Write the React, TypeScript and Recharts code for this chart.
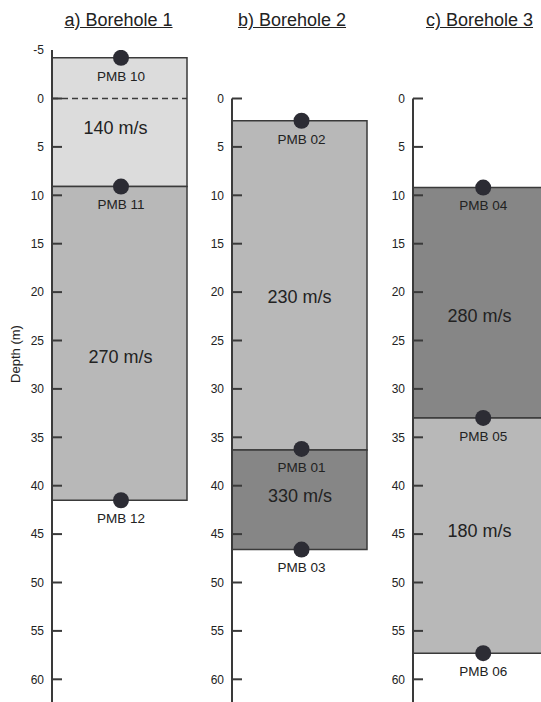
import { ComposedChart, XAxis, YAxis, Scatter, ReferenceArea, ReferenceLine } from 'recharts';

const titles = ['a) Borehole 1', 'b) Borehole 2', 'c) Borehole 3'];
const ticksA = [-5, 0, 5, 10, 15, 20, 25, 30, 35, 40, 45, 50, 55, 60];
const ticksBC = [0, 5, 10, 15, 20, 25, 30, 35, 40, 45, 50, 55, 60];

// borehole 1
const bh1Top = [-4.2, 9.1];
const bh1Base = [9.1, 41.5];
const bh1Vel = [140, 270];
const bh1VelDepth = [3.0, 26.7];
const bh1VelPos = [0.47, 0.507];
const bh1Sensors = ['PMB 10', 'PMB 11', 'PMB 12'];
const bh1SensorDepth = [-4.2, 9.1, 41.5];

// borehole 2
const bh2Top = [2.3, 36.3];
const bh2Base = [36.3, 46.6];
const bh2Vel = [230, 330];
const bh2VelDepth = [20.5, 41.0];
const bh2VelPos = [0.5, 0.503];
const bh2Sensors = ['PMB 02', 'PMB 01', 'PMB 03'];
const bh2SensorDepth = [2.3, 36.2, 46.6];

// borehole 3
const bh3Top = [9.2, 33.0];
const bh3Base = [33.0, 57.3];
const bh3Vel = [280, 180];
const bh3VelDepth = [22.4, 44.6];
const bh3VelPos = [0.493, 0.493];
const bh3Sensors = ['PMB 04', 'PMB 05', 'PMB 06'];
const bh3SensorDepth = [9.2, 33.0, 57.3];

const FONT = '"Liberation Sans", Arial, Helvetica, sans-serif';
const INK = '#3a3a3a';

const velFill = (v: number) => (v < 150 ? '#dcdcdc' : v < 275 ? '#b8b8b8' : '#868686');

function makeTick(skip: number[]) {
  return (props: any) => {
    const { x, y, payload } = props;
    const ax = x + 8;
    return (
      <g>
        {!skip.includes(payload.value) && <line x1={ax} x2={ax + 10} y1={y} y2={y} stroke={INK} strokeWidth={2} />}
        <text x={x} y={y} dy="0.36em" textAnchor="end" fontSize={12} fill="#222" fontFamily={FONT}>
          {payload.value}
        </text>
      </g>
    );
  };
}

const SensorDot = (props: any) => {
  const { cx, cy, payload } = props;
  return (
    <g>
      <circle cx={cx} cy={cy} r={8} fill="#2c2c34" />
      <text x={cx} y={cy + 18} dy="0.36em" textAnchor="middle" fontSize={13.5} fill="#222" fontFamily={FONT}>
        {payload.name}
      </text>
    </g>
  );
};

const VelText = (props: any) => {
  const { cx, cy, payload } = props;
  return (
    <text x={cx} y={cy} dy="0.36em" textAnchor="middle" fontSize={18} fill="#222" fontFamily={FONT}>
      {payload.label}
    </text>
  );
};

function Borehole(props: {
  left: number; min: number; ticks: number[]; skip: number[]; dashed: boolean;
  top: number[]; base: number[]; vel: number[]; velDepth: number[]; velPos: number[];
  sensors: string[]; sensorDepth: number[]; sensorPos: number;
}) {
  const { left, min, ticks, skip, dashed, top, base, vel, velDepth, velPos, sensors, sensorDepth, sensorPos } = props;
  const pxPerM = 9.68;
  const marginTop = 98.5 + min * pxPerM;
  const velData = vel.map((v, i) => ({ x: velPos[i], depth: velDepth[i], label: `${v} m/s` }));
  const sensorData = sensors.map((s, i) => ({ x: sensorPos, depth: sensorDepth[i], name: s }));
  return (
    <div style={{ position: 'absolute', left, top: 0 }}>
      <ComposedChart width={200} height={720} margin={{ top: marginTop, right: 13, bottom: 16.5, left: 0 }}>
        <XAxis type="number" dataKey="x" domain={[0, 1]} hide />
        <YAxis
          yAxisId="d"
          type="number"
          dataKey="depth"
          domain={[min, 62.5]}
          reversed
          allowDataOverflow
          ticks={ticks}
          interval={0}
          width={52}
          axisLine={{ stroke: INK, strokeWidth: 2 }}
          tickLine={false}
          tick={makeTick(skip)}
        />
        <YAxis
          yAxisId="r"
          orientation="right"
          type="number"
          domain={[min, 62.5]}
          reversed
          width={0}
          tick={false}
          tickLine={false}
          axisLine={{ stroke: INK, strokeWidth: 2 }}
        />
        {top.map((t, i) => (
          <ReferenceArea
            key={i}
            yAxisId="d"
            y1={t}
            y2={base[i]}
            fill={velFill(vel[i])}
            fillOpacity={1}
            stroke={INK}
            strokeWidth={1.5}
            ifOverflow="visible"
          />
        ))}
        {dashed && <ReferenceLine yAxisId="d" y={0} stroke={INK} strokeWidth={1.5} strokeDasharray="6 4" />}
        <Scatter yAxisId="d" data={velData} shape={VelText} isAnimationActive={false} />
        <Scatter yAxisId="d" data={sensorData} shape={SensorDot} isAnimationActive={false} />
      </ComposedChart>
    </div>
  );
}

const titleX = [118.5, 292, 479.5];

export default function App() {
  return (
    <div
      style={{
        position: 'fixed', left: 0, top: 0, width: 541, height: 702, overflow: 'hidden',
        background: '#fff', fontFamily: FONT, color: '#222',
      }}
    >
      {titles.map((t, i) => (
        <div
          key={t}
          style={{
            position: 'absolute', left: titleX[i], top: 10, transform: 'translateX(-50%)',
            fontSize: 18, lineHeight: '20px', textDecoration: 'underline', whiteSpace: 'nowrap',
          }}
        >
          {t}
        </div>
      ))}
      <Borehole left={0} min={-5} ticks={ticksA} skip={[-5]} dashed
        top={bh1Top} base={bh1Base} vel={bh1Vel} velDepth={bh1VelDepth} velPos={bh1VelPos}
        sensors={bh1Sensors} sensorDepth={bh1SensorDepth} sensorPos={0.511} />
      <Borehole left={180} min={0} ticks={ticksBC} skip={[]} dashed={false}
        top={bh2Top} base={bh2Base} vel={bh2Vel} velDepth={bh2VelDepth} velPos={bh2VelPos}
        sensors={bh2Sensors} sensorDepth={bh2SensorDepth} sensorPos={0.515} />
      <Borehole left={361} min={0} ticks={ticksBC} skip={[]} dashed={false}
        top={bh3Top} base={bh3Base} vel={bh3Vel} velDepth={bh3VelDepth} velPos={bh3VelPos}
        sensors={bh3Sensors} sensorDepth={bh3SensorDepth} sensorPos={0.52} />
      <div
        style={{
          position: 'absolute', left: 15, top: 354, transform: 'translate(-50%, -50%) rotate(-90deg)',
          fontSize: 13, whiteSpace: 'nowrap',
        }}
      >
        Depth (m)
      </div>
    </div>
  );
}
